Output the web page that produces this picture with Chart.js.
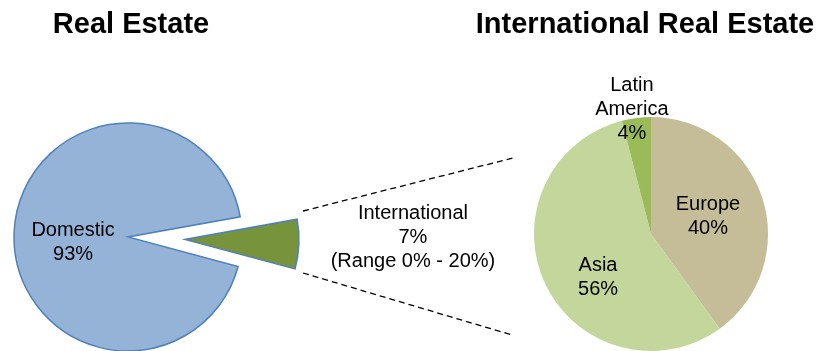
<!DOCTYPE html>
<html>
<head>
<meta charset="utf-8">
<script src="https://cdn.jsdelivr.net/npm/chart.js@4.4.0/dist/chart.umd.min.js"></script>
<style>
  html, body { margin: 0; padding: 0; background: #fff; }
  #wrap { position: relative; width: 824px; height: 351px; overflow: hidden; }
  #wrap canvas { position: absolute; left: 0; top: 0; }
</style>
</head>
<body>
<div id="wrap">
  <canvas id="realEstate" width="824" height="351"></canvas>
  <canvas id="intlRealEstate" width="824" height="351"></canvas>
</div>
<script>
// left pie
const reLabels = ['Domestic', 'International'];
const reValues = [93, 7];
const reColors = ['#95B3D7', '#77933C'];
const reNotes = ['', '(Range 0% - 20%)'];

// right pie
const intlLabels = ['Europe', 'Asia', 'Latin America'];
const intlValues = [40, 56, 4];
const intlColors = ['#C4BD97', '#C3D69B', '#9BBB59'];

const FONT = '"Liberation Sans", Arial, sans-serif';

// draws titles, slice labels, dashed connectors and handles the exploded slice
const pieExtras = {
  id: 'pieExtras',
  afterDatasetUpdate(chart, args, opts) {
    const explode = opts.explode || [];
    args.meta.data.forEach((arc, i) => {
      const d = explode[i] || 0;
      if (!d) return;
      const mid = (arc.startAngle + arc.endAngle) / 2;
      arc.x += Math.cos(mid) * d;
      arc.y += Math.sin(mid) * d;
    });
  },
  afterDraw(chart, args, opts) {
    const ctx = chart.ctx;
    const meta = chart.getDatasetMeta(0);
    const ds = chart.data.datasets[0];
    const total = ds.data.reduce((a, b) => a + b, 0);
    ctx.save();

    (opts.connectors || []).forEach(c => {
      ctx.beginPath();
      ctx.setLineDash([6, 4]);
      ctx.lineWidth = 1.3;
      ctx.strokeStyle = '#000';
      ctx.moveTo(c[0], c[1]);
      ctx.lineTo(c[2], c[3]);
      ctx.stroke();
    });
    ctx.setLineDash([]);

    ctx.fillStyle = '#000';
    ctx.textAlign = 'center';
    ctx.textBaseline = 'alphabetic';
    ctx.font = 'bold 29px ' + FONT;
    ctx.fillText(opts.title, opts.titleX, 33);

    ctx.font = '20px ' + FONT;
    ctx.textBaseline = 'middle';
    meta.data.forEach((arc, i) => {
      const label = chart.data.labels[i];
      let lines = (opts.wrap && opts.wrap[i]) ? label.split(' ') : [label];
      lines = lines.concat([Math.round(ds.data[i] / total * 100) + '%']);
      if (opts.notes && opts.notes[i]) lines.push(opts.notes[i]);
      const ang = (arc.startAngle + arc.endAngle) / 2 + (opts.shift[i] || 0) * Math.PI / 180;
      const r = opts.dist[i] * arc.outerRadius;
      const cx = arc.x + Math.cos(ang) * r;
      const cy = arc.y + Math.sin(ang) * r;
      const lh = 24;
      const y0 = cy - (lines.length - 1) * lh / 2;
      lines.forEach((t, k) => ctx.fillText(t, cx, y0 + k * lh));
    });
    ctx.restore();
  }
};

new Chart('realEstate', {
  type: 'pie',
  data: {
    labels: reLabels,
    datasets: [{
      data: reValues,
      backgroundColor: reColors,
      borderColor: '#4F81BD',
      borderWidth: 1.5,
      borderJoinStyle: 'miter',
      radius: 114,
      rotation: 105
    }]
  },
  options: {
    responsive: false,
    animation: false,
    events: [],
    radius: 114,
    rotation: 105,
    layout: { padding: { left: 0, right: 568, top: 123, bottom: 0 } },
    plugins: {
      legend: { display: false },
      tooltip: { enabled: false },
      pieExtras: {
        title: 'Real Estate',
        titleX: 131,
        explode: [0, 57],
        dist: [0.484, 2.0],
        shift: [-7.6, -3],
        notes: reNotes,
        connectors: [[303, 211, 513, 158], [303, 273, 512, 335]]
      }
    }
  },
  plugins: [pieExtras]
});

new Chart('intlRealEstate', {
  type: 'pie',
  data: {
    labels: intlLabels,
    datasets: [{
      data: intlValues,
      backgroundColor: intlColors,
      borderWidth: 0,
      radius: 117
    }]
  },
  options: {
    responsive: false,
    animation: false,
    events: [],
    radius: 117,
    layout: { padding: { left: 534, right: 56, top: 117, bottom: 0 } },
    plugins: {
      legend: { display: false },
      tooltip: { enabled: false },
      pieExtras: {
        title: 'International Real Estate',
        titleX: 645,
        dist: [0.51, 0.586, 1.08],
        shift: [0.5, -14.2, -1.5],
        wrap: [false, false, true]
      }
    }
  },
  plugins: [pieExtras]
});
</script>
</body>
</html>
